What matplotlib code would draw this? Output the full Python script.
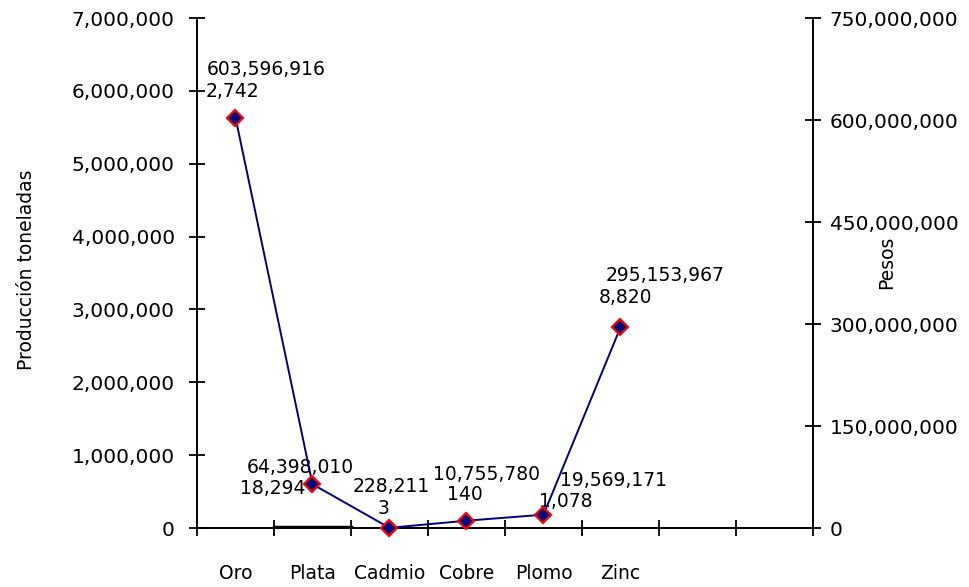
import matplotlib
matplotlib.use("Agg")
import matplotlib.pyplot as plt
from matplotlib.ticker import FuncFormatter, FixedLocator

minerales = ["Oro", "Plata", "Cadmio", "Cobre", "Plomo", "Zinc"]
toneladas = [2742, 18294, 3, 140, 1078, 8820]
pesos = [603596916, 64398010, 228211, 10755780, 19569171, 295153967]
n_slots = 8

# label offsets in pixels (pesos label, toneladas label)
off_pesos = [(31, 48), (-12, 17), (2, 41), (20, 46), (70, 34), (45, 52)]
off_ton = [(-3, 26), (-40, -4), (-6, 19), (-2, 26), (22, 13), (5, 30)]
# only the Plata bar shows as a thick line in the original
bar_edges = [0, 2.5, 0, 0, 0, 0]

plt.rcParams["font.family"] = ["DejaVu Sans"]

fig = plt.figure(figsize=(9.69, 5.87), dpi=100)
ax = fig.add_axes([197 / 969, 1 - 528 / 587, 616 / 969, 510 / 587])
ax2 = ax.twinx()

x = list(range(len(minerales)))
ax.bar(x, toneladas, width=1.0, color="black", edgecolor="black", linewidth=bar_edges)
ax.set_xlim(-0.5, n_slots - 0.5)
ax.set_ylim(0, 7000000)
ax.set_yticks(range(0, 7000001, 1000000))
ax.yaxis.set_major_formatter(FuncFormatter(lambda v, p: f"{v:,.0f}"))
ax2.set_ylim(0, 750000000)
ax2.set_yticks(range(0, 750000001, 150000000))
ax2.yaxis.set_major_formatter(FuncFormatter(lambda v, p: f"{v:,.0f}"))

ax.set_xticks(x)
ax.set_xticklabels(minerales, fontsize=13.5)
ax.xaxis.set_minor_locator(FixedLocator([i - 0.5 for i in range(n_slots + 1)]))
ax.tick_params(axis="x", which="major", length=0, pad=26)
ax.tick_params(axis="x", which="minor", direction="inout", length=12, width=1.3)
ax.tick_params(axis="y", direction="inout", length=12, width=1.3, labelsize=14.5, pad=10)
ax2.tick_params(axis="y", direction="inout", length=12, width=1.3, labelsize=14.5, pad=6)

for a in (ax, ax2):
    a.spines["top"].set_visible(False)
    for s in ("left", "right", "bottom"):
        a.spines[s].set_linewidth(1.3)

ax2.plot(x, pesos, color="#000080", linewidth=1.4, marker="D", markersize=8,
         markerfacecolor="#000080", markeredgecolor="red", markeredgewidth=1.6, clip_on=False, zorder=5)

for i in x:
    ax2.annotate(f"{pesos[i]:,}", xy=(i, pesos[i]), xytext=off_pesos[i], textcoords="offset pixels",
                 ha="center", va="center", fontsize=13.5, annotation_clip=False)
    ax2.annotate(f"{toneladas[i]:,}", xy=(i, pesos[i]), xytext=off_ton[i], textcoords="offset pixels",
                 ha="center", va="center", fontsize=13.5, annotation_clip=False)

ax.set_ylabel("Producción toneladas", fontsize=13.5)
ax.yaxis.set_label_coords(-0.261, 0.506)
ax2.set_ylabel("Pesos", fontsize=13.5)
ax2.yaxis.set_label_coords(1.104, 0.52)

fig.savefig("out.png", dpi=100)
